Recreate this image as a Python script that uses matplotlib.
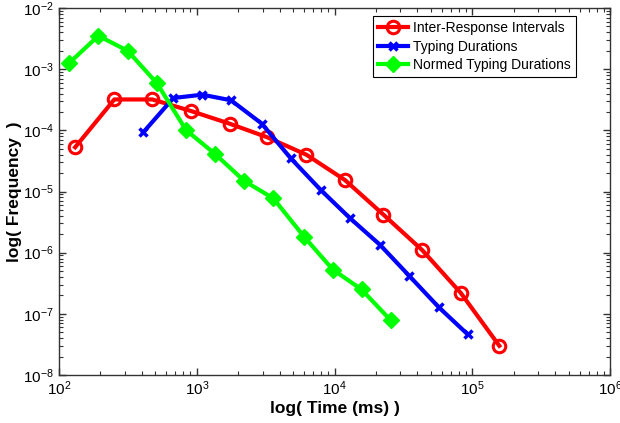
import matplotlib
matplotlib.use("Agg")
import matplotlib.pyplot as plt
from matplotlib.ticker import LogLocator, NullFormatter

plt.rcParams['font.family'] = ['Liberation Sans', 'DejaVu Sans']
plt.rcParams['mathtext.fontset'] = 'custom'
plt.rcParams['mathtext.rm'] = 'Liberation Sans'

# Inter-Response Intervals
iri_x = [131, 252, 476, 908, 1741, 3250, 6240, 11900, 22600, 43300, 82400, 157000]
iri_y = [5.3e-5, 3.2e-4, 3.2e-4, 2.07e-4, 1.28e-4, 7.7e-5, 4.0e-5, 1.54e-5, 4.2e-6, 1.1e-6, 2.2e-7, 3.0e-8]

# Typing Durations
td_x = [409, 676, 1097, 1773, 2960, 4810, 7940, 12970, 21400, 34900, 57100, 92700]
td_y = [9.3e-5, 3.38e-4, 3.83e-4, 3.1e-4, 1.29e-4, 3.49e-5, 1.06e-5, 3.65e-6, 1.34e-6, 4.16e-7, 1.28e-7, 4.6e-8]

# Normed Typing Durations
ntd_x = [118, 193, 315, 514, 836, 1358, 2210, 3600, 6010, 9710, 15700, 25600]
ntd_y = [1.25e-3, 3.52e-3, 2.0e-3, 5.88e-4, 1.01e-4, 4.1e-5, 1.49e-5, 7.7e-6, 1.82e-6, 5.3e-7, 2.5e-7, 7.8e-8]

labels = ['Inter-Response Intervals', 'Typing Durations', 'Normed Typing Durations']

fig = plt.figure(figsize=(6.2, 4.23), dpi=100)
ax = fig.add_axes([0.0952, 0.1135, 0.8888, 0.8675])

ax.plot(iri_x, iri_y, color='#ff0000', lw=3, marker='o', ms=9, mfc='none', mew=2.2, label=labels[0])
ax.plot(td_x, td_y, color='#0000ff', lw=3, marker='x', ms=6, mew=2.5, label=labels[1])
ax.plot(ntd_x, ntd_y, color='#00ff00', lw=3, marker='D', ms=8, mew=1, label=labels[2])

ax.set_xscale('log')
ax.set_yscale('log')
ax.set_xlim(1e2, 1e6)
ax.set_ylim(1e-8, 1e-2)

ax.xaxis.set_major_locator(LogLocator(base=10, numticks=10))
ax.yaxis.set_major_locator(LogLocator(base=10, numticks=10))
ax.xaxis.set_minor_locator(LogLocator(base=10, subs=range(2, 10), numticks=20))
ax.yaxis.set_minor_locator(LogLocator(base=10, subs=range(2, 10), numticks=20))
ax.xaxis.set_minor_formatter(NullFormatter())
ax.yaxis.set_minor_formatter(NullFormatter())

ax.tick_params(which='both', direction='in', top=True, right=True, labelsize=11, colors='#333333', labelcolor='black')
ax.tick_params(which='major', length=5, width=1)
ax.tick_params(which='minor', length=3, width=0.8)
for s in ax.spines.values():
    s.set_color('#333333')
    s.set_linewidth(1)

ax.set_xlabel('log( Time (ms) )', fontsize=12.5, fontweight='bold', labelpad=2)
ax.set_ylabel('log( Frequency  )', fontsize=12.5, fontweight='bold', labelpad=1)

leg = ax.legend(loc='upper right', bbox_to_anchor=(0.938, 0.977), fontsize=10, frameon=True, fancybox=False,
                edgecolor='black', framealpha=1, handlelength=2.2, handletextpad=0.35, borderpad=0.35,
                labelspacing=0.32, borderaxespad=0.0)
leg.get_frame().set_linewidth(0.8)

fig.savefig('out.png', dpi=100)
